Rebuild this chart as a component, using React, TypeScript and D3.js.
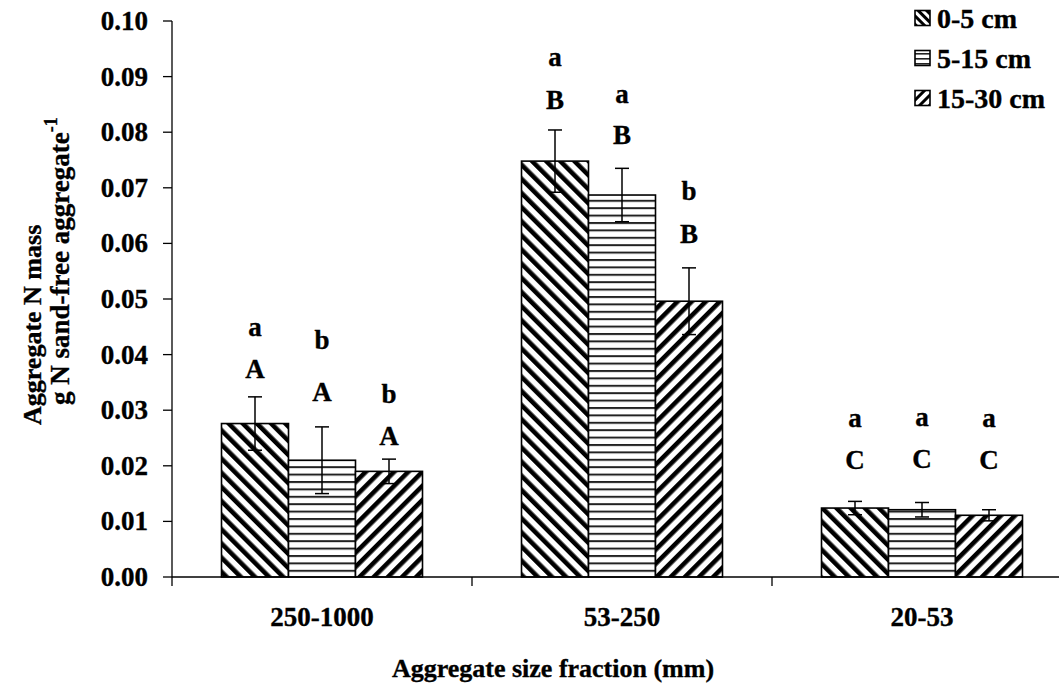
import React from "react";
import * as d3 from "d3";

// Aggregate size fractions (µm) on the x axis
const fractions = ["250-1000", "53-250", "20-53"];
// Soil depth series
const depths = ["0-5 cm", "5-15 cm", "15-30 cm"];

// Mean aggregate N mass (g N per g sand-free aggregate), one array per depth
const depth0to5 = [0.0276, 0.0748, 0.0124];
const depth5to15 = [0.021, 0.0687, 0.0121];
const depth15to30 = [0.019, 0.0496, 0.0111];

// Standard errors, one array per depth
const err0to5 = [0.0048, 0.0056, 0.0012];
const err5to15 = [0.006, 0.0048, 0.0013];
const err15to30 = [0.0022, 0.006, 0.001];

// Significance letters: lowercase compares depths within a fraction,
// uppercase compares fractions within a depth
const lower0to5 = ["a", "a", "a"];
const lower5to15 = ["b", "a", "a"];
const lower15to30 = ["b", "b", "a"];
const upper0to5 = ["A", "B", "C"];
const upper5to15 = ["A", "B", "C"];
const upper15to30 = ["A", "B", "C"];

const yTicks = [0, 0.01, 0.02, 0.03, 0.04, 0.05, 0.06, 0.07, 0.08, 0.09, 0.1];

const means = [depth0to5, depth5to15, depth15to30];
const errors = [err0to5, err5to15, err15to30];
const lowers = [lower0to5, lower5to15, lower15to30];
const uppers = [upper0to5, upper5to15, upper15to30];

// Pixel gap from the error cap up to the uppercase letter, per depth / fraction
const capToUpper = [
  [28, 30, 41],
  [35, 33, 43],
  [23, 34, 50],
];
// Pixel gap from the uppercase letter up to the lowercase letter
const upperToLower = [
  [42, 43, 42],
  [52, 41, 42],
  [42, 43, 42],
];

const W = 1059;
const H = 692;
const left = 172;
const bandW = 300;
const y0 = 577;
const yTop = 21;
const FONT = "'Liberation Serif', 'Times New Roman', serif";
const fs = 27;
const textStroke = { stroke: "#000", strokeWidth: 0.35 };

const patternIds = ["pat-down", "pat-horiz", "pat-up"];
const legendPatternIds = ["leg-down", "leg-horiz", "leg-up"];

export default function App() {
  const x = d3
    .scaleBand<string>()
    .domain(fractions)
    .range([left, left + bandW * fractions.length])
    .paddingInner(0)
    .paddingOuter(0);
  const barW = 67;
  const groupW = barW * depths.length;
  const y = d3.scaleLinear().domain([0, 0.1]).range([y0, yTop]);

  return (
    <svg
      width={W}
      height={H}
      style={{ position: "absolute", left: 0, top: 0, background: "#fff" }}
      fontFamily={FONT}
      fontWeight="bold"
    >
      <defs>
        <pattern
          id="pat-down"
          patternUnits="userSpaceOnUse"
          width={10}
          height={10}
          patternTransform="rotate(-45)"
        >
          <rect width={10} height={10} fill="#fff" />
          <rect x={0} width={4.6} height={10} fill="#000" />
        </pattern>
        <pattern id="pat-horiz" patternUnits="userSpaceOnUse" width={10} height={7.4}>
          <rect width={10} height={7.4} fill="#fff" />
          <rect y={0} width={10} height={2} fill="#222" />
        </pattern>
        <pattern
          id="pat-up"
          patternUnits="userSpaceOnUse"
          width={10}
          height={10}
          patternTransform="rotate(45)"
        >
          <rect width={10} height={10} fill="#fff" />
          <rect x={0} width={4.6} height={10} fill="#000" />
        </pattern>
        <pattern
          id="leg-down"
          patternUnits="userSpaceOnUse"
          width={6}
          height={6}
          patternTransform="rotate(-45)"
        >
          <rect width={6} height={6} fill="#fff" />
          <rect x={0} width={3} height={6} fill="#000" />
        </pattern>
        <pattern id="leg-horiz" patternUnits="userSpaceOnUse" width={6} height={5}>
          <rect width={6} height={5} fill="#fff" />
          <rect y={0} width={6} height={1.6} fill="#222" />
        </pattern>
        <pattern
          id="leg-up"
          patternUnits="userSpaceOnUse"
          width={7}
          height={7}
          patternTransform="rotate(45)"
        >
          <rect width={7} height={7} fill="#fff" />
          <rect x={0} width={3} height={7} fill="#000" />
        </pattern>
      </defs>

      <rect width={W} height={H} fill="#fff" />

      {/* bars, error bars and letters */}
      {fractions.map((f, fi) => {
        const gx = (x(f) as number) + (bandW - groupW) / 2;
        return (
          <g key={f}>
            {depths.map((d, di) => {
              const v = means[di][fi];
              const e = errors[di][fi];
              const bx = gx + di * barW;
              const cx = bx + barW / 2;
              const capTop = y(v + e);
              const capBot = y(v - e);
              const upperY = capTop - capToUpper[di][fi];
              const lowerY = upperY - upperToLower[di][fi];
              return (
                <g key={d}>
                  <rect
                    x={bx}
                    y={y(v)}
                    width={barW}
                    height={y0 - y(v)}
                    fill={`url(#${patternIds[di]})`}
                    stroke="#000"
                    strokeWidth={1.6}
                  />
                  <line x1={cx} x2={cx} y1={capTop} y2={capBot} stroke="#000" strokeWidth={1.5} />
                  <line x1={cx - 7} x2={cx + 7} y1={capTop} y2={capTop} stroke="#000" strokeWidth={1.5} />
                  <line x1={cx - 7} x2={cx + 7} y1={capBot} y2={capBot} stroke="#000" strokeWidth={1.5} />
                  <text x={cx} y={upperY} fontSize={fs} textAnchor="middle" dominantBaseline="central" {...textStroke}>
                    {uppers[di][fi]}
                  </text>
                  <text x={cx} y={lowerY} fontSize={fs} textAnchor="middle" dominantBaseline="central" {...textStroke}>
                    {lowers[di][fi]}
                  </text>
                </g>
              );
            })}
          </g>
        );
      })}

      {/* y axis */}
      <line x1={left} x2={left} y1={y(0.1)} y2={y0} stroke="#000" strokeWidth={1.3} />
      {yTicks.map((t) => (
        <g key={t}>
          <line x1={left - 9} x2={left} y1={y(t)} y2={y(t)} stroke="#000" strokeWidth={1.3} />
          <text x={148} y={y(t) + 9} fontSize={fs} textAnchor="end" {...textStroke}>
            {d3.format(".2f")(t)}
          </text>
        </g>
      ))}

      {/* x axis */}
      <line x1={left} x2={left + bandW * fractions.length} y1={y0} y2={y0} stroke="#000" strokeWidth={1.3} />
      {d3.range(fractions.length + 1).map((i) => (
        <line
          key={i}
          x1={left + i * bandW}
          x2={left + i * bandW}
          y1={y0}
          y2={y0 + 9}
          stroke="#000"
          strokeWidth={1.3}
        />
      ))}
      {fractions.map((f) => (
        <text key={f} x={(x(f) as number) + bandW / 2} y={626} fontSize={fs} textAnchor="middle" {...textStroke}>
          {f}
        </text>
      ))}

      {/* axis titles */}
      <text x={553} y={677} fontSize={26} textAnchor="middle" {...textStroke}>
        Aggregate size fraction (mm)
      </text>
      <text transform="translate(41,425) rotate(-90)" fontSize={26} {...textStroke}>
        Aggregate N mass
      </text>
      <text transform="translate(69,405) rotate(-90)" fontSize={27} {...textStroke}>
        g N sand-free aggregate
        <tspan fontSize={18} dy={-12}>
          -1
        </tspan>
      </text>

      {/* legend */}
      {depths.map((d, i) => (
        <g key={d} transform={`translate(915, ${18 + i * 40})`}>
          <rect
            x={0}
            y={-7.5}
            width={15}
            height={15}
            fill={`url(#${legendPatternIds[i]})`}
            stroke="#000"
            strokeWidth={1.6}
          />
          <text x={22} y={9.5} fontSize={28} {...textStroke}>
            {d}
          </text>
        </g>
      ))}
    </svg>
  );
}
